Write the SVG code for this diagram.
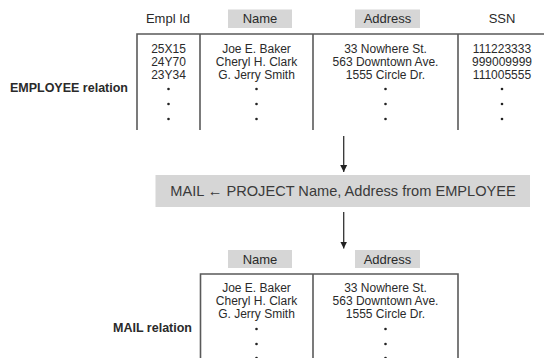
<svg xmlns="http://www.w3.org/2000/svg" width="544" height="358" viewBox="0 0 544 358">
<style>
text{font-family:"Liberation Sans",Arial,sans-serif;fill:#2a2a2a;}
.d{font-size:12px;text-anchor:middle;}
.h{font-size:13px;text-anchor:middle;}
.b{font-size:12.5px;font-weight:bold;text-anchor:end;}
.op{font-size:14.6px;text-anchor:middle;fill:#3a3a3a;}
.hb{fill:#d6d6d6;}
.ln{stroke:#5a5a5a;stroke-width:1.6;fill:none;}
.ar{stroke:#333;stroke-width:1.3;fill:none;}
</style>
<defs>
<marker id="ah" markerWidth="8" markerHeight="8" refX="7" refY="4" orient="auto" markerUnits="userSpaceOnUse" viewBox="0 0 8 8">
<path d="M0,0.5 L7,4 L0,7.5 Z" fill="#222"/>
</marker>
</defs>
<g id="employee">
<text class="b" x="128" y="92">EMPLOYEE relation</text>
<text class="h" x="168" y="23">Empl Id</text>
<rect class="hb" x="228" y="9.5" width="64" height="18.5"/>
<text class="h" x="260" y="23">Name</text>
<rect class="hb" x="355" y="9.5" width="65" height="18.5"/>
<text class="h" x="387.5" y="23">Address</text>
<text class="h" x="502" y="23">SSN</text>
<path class="ln" d="M137,130 V34 H544 M200,34 V130 M313,34 V130 M458,34 V130"/>
<text class="d" x="168.5" y="52.6">25X15</text>
<text class="d" x="168.5" y="66">24Y70</text>
<text class="d" x="168.5" y="79.4">23Y34</text>
<text class="d" x="256.5" y="52.6">Joe E. Baker</text>
<text class="d" x="256.5" y="66">Cheryl H. Clark</text>
<text class="d" x="256.5" y="79.4">G. Jerry Smith</text>
<text class="d" x="385.5" y="52.6">33 Nowhere St.</text>
<text class="d" x="385.5" y="66">563 Downtown Ave.</text>
<text class="d" x="385.5" y="79.4">1555 Circle Dr.</text>
<text class="d" x="502" y="52.6">111223333</text>
<text class="d" x="502" y="66">999009999</text>
<text class="d" x="502" y="79.4">111005555</text>
<g fill="#222">
<circle cx="168.5" cy="89" r="1.3"/><circle cx="168.5" cy="104" r="1.3"/><circle cx="168.5" cy="119" r="1.3"/>
<circle cx="256.5" cy="89" r="1.3"/><circle cx="256.5" cy="104" r="1.3"/><circle cx="256.5" cy="119" r="1.3"/>
<circle cx="385.5" cy="89" r="1.3"/><circle cx="385.5" cy="104" r="1.3"/><circle cx="385.5" cy="119" r="1.3"/>
<circle cx="502" cy="89" r="1.3"/><circle cx="502" cy="104" r="1.3"/><circle cx="502" cy="119" r="1.3"/>
</g>
</g>
<g id="operation">
<rect class="hb" x="155.5" y="175" width="374.5" height="32"/>
<text class="op" x="343" y="196">MAIL ← PROJECT Name, Address from EMPLOYEE</text>
</g>
<g id="mail">
<text class="b" x="192" y="332">MAIL relation</text>
<rect class="hb" x="228" y="250" width="64" height="18"/>
<text class="h" x="260" y="263.5">Name</text>
<rect class="hb" x="355" y="250" width="65" height="18"/>
<text class="h" x="387.5" y="263.5">Address</text>
<path class="ln" d="M200.5,358 V274 H458 V358 M313,274 V358"/>
<text class="d" x="256.5" y="291.6">Joe E. Baker</text>
<text class="d" x="256.5" y="305">Cheryl H. Clark</text>
<text class="d" x="256.5" y="318.4">G. Jerry Smith</text>
<text class="d" x="385.5" y="291.6">33 Nowhere St.</text>
<text class="d" x="385.5" y="305">563 Downtown Ave.</text>
<text class="d" x="385.5" y="318.4">1555 Circle Dr.</text>
<g fill="#222">
<circle cx="256.5" cy="329" r="1.3"/><circle cx="256.5" cy="344" r="1.3"/><circle cx="256.5" cy="358" r="1.3"/>
<circle cx="385.5" cy="329" r="1.3"/><circle cx="385.5" cy="344" r="1.3"/><circle cx="385.5" cy="358" r="1.3"/>
</g>
</g>
<g id="connectors">
<path class="ar" d="M343.7,136 V172" marker-end="url(#ah)"/>
<path class="ar" d="M343.7,212 V248.5" marker-end="url(#ah)"/>
</g>
</svg>
